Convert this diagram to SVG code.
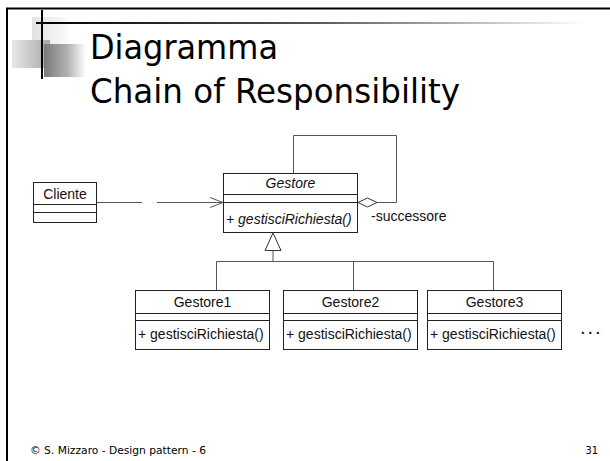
<svg xmlns="http://www.w3.org/2000/svg" width="610" height="461" viewBox="0 0 610 461">
<style>
.box{fill:#fff;stroke:#222;stroke-width:1}
.sep{stroke:#222;stroke-width:1}
.t{font-family:"Liberation Sans",Arial,sans-serif;font-size:14px;fill:#111}
.it{font-style:italic}
.c{text-anchor:middle}
.conn{fill:none;stroke:#555;stroke-width:1}
.title{font-family:"DejaVu Sans",Tahoma,sans-serif;font-size:33px;fill:#000}
.foot{font-family:"DejaVu Sans Condensed","DejaVu Sans",sans-serif;font-size:11px;fill:#000}
</style>
<defs>
<linearGradient id="hl" x1="0" x2="1" y1="0" y2="0">
<stop offset="0" stop-color="#000"/>
<stop offset="0.5" stop-color="#555"/>
<stop offset="1" stop-color="#fff"/>
</linearGradient>
<linearGradient id="sqDark" x1="0" x2="1" y1="0" y2="0">
<stop offset="0" stop-color="#7a7a7a"/>
<stop offset="0.55" stop-color="#b0b0b0"/>
<stop offset="1" stop-color="#fff"/>
</linearGradient>
<linearGradient id="sqMid" x1="0" x2="1" y1="0" y2="0">
<stop offset="0" stop-color="#e8e8e8"/>
<stop offset="1" stop-color="#a8a8a8"/>
</linearGradient>
<linearGradient id="sqLight" x1="0" x2="1" y1="0" y2="0">
<stop offset="0" stop-color="#e2e2e2"/>
<stop offset="1" stop-color="#fafafa"/>
</linearGradient>
</defs>
<rect x="0" y="0" width="610" height="461" fill="#fff"/>
<!-- slide frame -->
<path d="M7 461 V8.5 H610" fill="none" stroke="#000" stroke-width="2"/>
<!-- title decoration -->
<g id="decoration">
<rect x="32" y="17" width="36" height="31" fill="url(#sqLight)"/>
<rect x="12" y="40" width="38" height="28" fill="url(#sqMid)"/>
<rect x="44" y="44" width="42" height="33" fill="url(#sqDark)"/>
<rect x="36" y="22" width="550" height="2" fill="url(#hl)"/>
<rect x="41" y="10" width="2" height="69" fill="#000"/>
</g>
<g id="title">
<text class="title" x="90" y="59" textLength="188" lengthAdjust="spacingAndGlyphs">Diagramma</text>
<text class="title" x="90" y="103" textLength="370" lengthAdjust="spacingAndGlyphs">Chain of Responsibility</text>
</g>
<!-- connectors -->
<g id="connectors">
<path class="conn" d="M96 202.5 H142 M157 202.5 H223"/>
<path class="conn" d="M210 197.5 L223 202.5 L210 207.5"/>
<path class="conn" d="M293.5 173 V135.5 H396.5 V202.5 H377"/>
<path d="M358 202.5 L367.5 198 L377 202.5 L367.5 207 Z" fill="#fff" stroke="#333" stroke-width="1"/>
<path d="M273 233 L265 250.5 L281 250.5 Z" fill="#fff" stroke="#333" stroke-width="1"/>
<path class="conn" d="M273 250.5 V261.5 M216.5 290 V261.5 H493.5 V290 M353.5 261.5 V290"/>
</g>
<g id="Cliente">
<rect class="box" x="33.5" y="182.5" width="63" height="40"/>
<path class="sep" d="M33.5 204.5 H96.5 M33.5 212.5 H96.5"/>
<text class="t c" x="65" y="199">Cliente</text>
</g>
<g id="Gestore">
<rect class="box" x="223.5" y="173.5" width="134" height="59"/>
<path class="sep" d="M223.5 194.5 H357.5 M223.5 202.5 H357.5"/>
<text class="t it c" x="290.5" y="188">Gestore</text>
<text class="t it" x="226" y="224">+ gestisciRichiesta()</text>
</g>
<text class="t" x="371" y="221">-successore</text>
<g id="Gestore1">
<rect class="box" x="135.5" y="290.5" width="134" height="59"/>
<path class="sep" d="M135.5 313.5 H269.5 M135.5 320.5 H269.5"/>
<text class="t c" x="202.5" y="307">Gestore1</text>
<text class="t" x="138" y="339">+ gestisciRichiesta()</text>
</g>
<g id="Gestore2">
<rect class="box" x="283.5" y="290.5" width="134" height="59"/>
<path class="sep" d="M283.5 313.5 H417.5 M283.5 320.5 H417.5"/>
<text class="t c" x="350.5" y="307">Gestore2</text>
<text class="t" x="286" y="339">+ gestisciRichiesta()</text>
</g>
<g id="Gestore3">
<rect class="box" x="427.5" y="290.5" width="134" height="59"/>
<path class="sep" d="M427.5 313.5 H561.5 M427.5 320.5 H561.5"/>
<text class="t c" x="494.5" y="307">Gestore3</text>
<text class="t" x="430" y="339">+ gestisciRichiesta()</text>
</g>
<text class="t" x="580" y="334" style="font-size:20px;letter-spacing:2px">...</text>
<g id="footer">
<text class="foot" x="30" y="454" textLength="176" lengthAdjust="spacingAndGlyphs">© S. Mizzaro - Design pattern - 6</text>
<text class="foot" x="598" y="454" text-anchor="end">31</text>
</g>
</svg>
